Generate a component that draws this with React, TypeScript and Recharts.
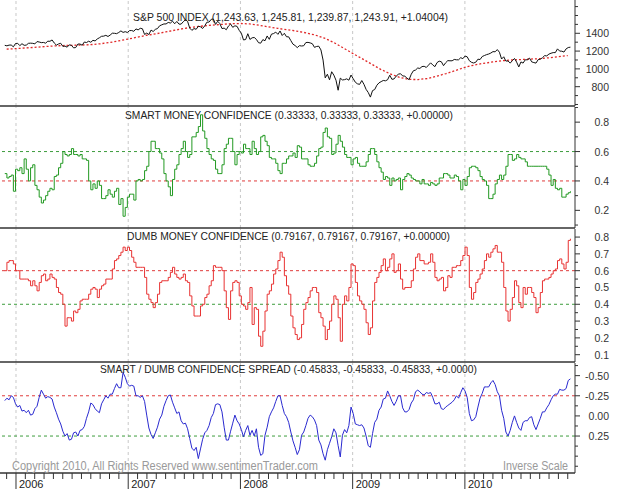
import { LineChart, Line, XAxis, YAxis, ReferenceLine } from "recharts";

// weekly samples start late Nov 2005, monthly average starts Dec 2005
const FIRST_WEEK = 2005.9;
const WEEK = 7 / 365.25;
const FIRST_MONTH = 2005 + 11 / 12;

const years = [2006, 2007, 2008, 2009, 2010];

const spx = [
  1265, 1259, 1267, 1268, 1248,
  1285, 1287, 1261, 1283, 1265, 1267, 1287, 1289, 1287, 1281, 1307, 1302, 1295,
  1297, 1289, 1311, 1310, 1325, 1291, 1267, 1280, 1288, 1253, 1256, 1244, 1270,
  1265, 1236, 1240, 1279, 1279, 1266, 1302, 1296, 1311, 1299, 1321, 1314, 1336,
  1350, 1366, 1368, 1377, 1364, 1380, 1401, 1400, 1396, 1409, 1427, 1410, 1418,
  1409, 1430, 1431, 1422, 1449, 1438, 1456, 1451, 1387, 1402, 1386, 1436, 1420,
  1444, 1453, 1484, 1495, 1505, 1505, 1522, 1515, 1536, 1507, 1533, 1503, 1503,
  1530, 1552, 1534, 1458, 1433, 1453, 1445, 1479, 1473, 1454, 1484, 1525, 1526,
  1557, 1561, 1500, 1535, 1509, 1453, 1458, 1440, 1481, 1504, 1467, 1484, 1478,
  1433, 1401, 1325, 1330, 1395, 1331, 1349, 1353, 1331, 1294, 1289, 1329, 1316,
  1370, 1332, 1390, 1397, 1413, 1388, 1426, 1375, 1400, 1361, 1360, 1318, 1278,
  1262, 1239, 1261, 1257, 1260, 1296, 1298, 1292, 1283, 1242, 1252, 1255, 1213,
  1099, 899, 940, 877, 968, 930, 873, 760, 896, 876, 879, 888, 873,
  931, 890, 850, 832, 826, 869, 827, 770, 735, 683, 756, 768, 816,
  843, 857, 870, 866, 878, 929, 883, 887, 919, 940, 946, 921, 918,
  896, 879, 940, 979, 987, 1010, 1005, 1026, 1029, 1016, 1042, 1068, 1044,
  1025, 1071, 1087, 1080, 1036, 1069, 1093, 1091, 1091, 1106, 1102, 1102, 1126,
  1115, 1144, 1136, 1092, 1074, 1066, 1075, 1109, 1105, 1139, 1150, 1160, 1167,
  1178, 1194, 1192, 1217, 1187, 1111, 1136, 1088, 1089, 1065, 1092, 1117, 1076,
  1022, 1078, 1065, 1102, 1102, 1121, 1079, 1071, 1065, 1104, 1109, 1125, 1149,
  1146, 1166, 1176, 1183, 1183, 1225, 1200, 1199, 1189, 1225, 1240, 1244,
];

const spxAverage = [
  1222,
  1228, 1235, 1242, 1250, 1257, 1262, 1265, 1268, 1272, 1282, 1296, 1315,
  1335, 1357, 1378, 1395, 1415, 1435, 1455, 1470, 1482, 1492, 1500, 1508,
  1510, 1505, 1490, 1472, 1455, 1440, 1425, 1405, 1380, 1345, 1295, 1235,
  1175, 1115, 1055, 995, 945, 905, 882, 880, 892, 918, 948, 982,
  1018, 1043, 1063, 1078, 1092, 1100, 1105, 1110, 1115, 1125, 1138, 1150,
];

const smartMoney = [
  0.45, 0.42, 0.43, 0.44, 0.33, 0.48, 0.47, 0.49, 0.45, 0.55,
  0.48, 0.40, 0.49, 0.51, 0.37, 0.34, 0.29, 0.25, 0.27, 0.30,
  0.33, 0.35, 0.34, 0.43, 0.44, 0.49, 0.52, 0.60, 0.58, 0.57,
  0.58, 0.62, 0.58, 0.58, 0.57, 0.58, 0.55, 0.55, 0.54, 0.40,
  0.34, 0.38, 0.35, 0.40, 0.37, 0.28, 0.28, 0.30, 0.34, 0.31,
  0.29, 0.33, 0.35, 0.24, 0.28, 0.16, 0.22, 0.29, 0.31, 0.31,
  0.27, 0.40, 0.41, 0.40, 0.41, 0.47, 0.50, 0.60, 0.67, 0.67,
  0.62, 0.62, 0.59, 0.55, 0.45, 0.40, 0.36, 0.30, 0.41, 0.48,
  0.51, 0.58, 0.62, 0.67, 0.60, 0.56, 0.58, 0.70, 0.70, 0.73,
  0.77, 0.85, 0.74, 0.69, 0.62, 0.58, 0.55, 0.54, 0.48, 0.45,
  0.45, 0.51, 0.62, 0.65, 0.69, 0.69, 0.60, 0.51, 0.58, 0.60,
  0.59, 0.65, 0.62, 0.62, 0.58, 0.67, 0.62, 0.58, 0.60, 0.70,
  0.71, 0.67, 0.64, 0.56, 0.55, 0.55, 0.52, 0.47, 0.45, 0.52,
  0.52, 0.55, 0.57, 0.57, 0.59, 0.56, 0.64, 0.63, 0.55, 0.55,
  0.55, 0.51, 0.50, 0.50, 0.52, 0.57, 0.62, 0.63, 0.73, 0.76,
  0.70, 0.69, 0.58, 0.59, 0.65, 0.71, 0.67, 0.63, 0.58, 0.56,
  0.56, 0.51, 0.55, 0.56, 0.52, 0.50, 0.50, 0.50, 0.53, 0.58,
  0.62, 0.62, 0.58, 0.53, 0.49, 0.46, 0.41, 0.43, 0.42, 0.37,
  0.42, 0.40, 0.41, 0.42, 0.34, 0.41, 0.43, 0.45, 0.44, 0.42,
  0.41, 0.40, 0.40, 0.38, 0.41, 0.38, 0.38, 0.37, 0.39, 0.38,
  0.37, 0.38, 0.42, 0.42, 0.45, 0.45, 0.44, 0.42, 0.42, 0.44,
  0.43, 0.40, 0.34, 0.41, 0.37, 0.43, 0.49, 0.50, 0.50, 0.49,
  0.47, 0.43, 0.41, 0.40, 0.37, 0.28, 0.28, 0.31, 0.38, 0.41,
  0.44, 0.41, 0.44, 0.50, 0.58, 0.58, 0.54, 0.55, 0.58, 0.56,
  0.55, 0.55, 0.53, 0.50, 0.50, 0.50, 0.50, 0.50, 0.50, 0.50,
  0.50, 0.50, 0.48, 0.44, 0.37, 0.41, 0.35, 0.34, 0.35, 0.29,
  0.29, 0.31, 0.32, 0.33,
];

const dumbMoney = [
  0.60, 0.65, 0.66, 0.66, 0.64, 0.60, 0.60, 0.55, 0.55, 0.55,
  0.55, 0.54, 0.51, 0.54, 0.51, 0.48, 0.53, 0.57, 0.58, 0.54,
  0.55, 0.58, 0.56, 0.55, 0.50, 0.47, 0.46, 0.40, 0.27, 0.32,
  0.32, 0.30, 0.36, 0.35, 0.37, 0.42, 0.43, 0.43, 0.43, 0.46,
  0.49, 0.50, 0.49, 0.44, 0.49, 0.51, 0.52, 0.55, 0.55, 0.55,
  0.61, 0.66, 0.67, 0.69, 0.71, 0.74, 0.72, 0.74, 0.72, 0.68,
  0.65, 0.62, 0.62, 0.62, 0.62, 0.56, 0.46, 0.43, 0.41, 0.38,
  0.41, 0.46, 0.53, 0.54, 0.54, 0.54, 0.56, 0.59, 0.62, 0.58,
  0.56, 0.55, 0.56, 0.58, 0.54, 0.53, 0.45, 0.39, 0.33, 0.33,
  0.33, 0.39, 0.40, 0.44, 0.46, 0.51, 0.54, 0.63, 0.62, 0.62,
  0.62, 0.60, 0.48, 0.38, 0.31, 0.48, 0.53, 0.54, 0.53, 0.45,
  0.40, 0.39, 0.37, 0.41, 0.50, 0.28, 0.38, 0.37, 0.21, 0.15,
  0.24, 0.36, 0.46, 0.48, 0.52, 0.58, 0.61, 0.66, 0.71, 0.68,
  0.57, 0.51, 0.46, 0.33, 0.26, 0.22, 0.19, 0.20, 0.28, 0.37,
  0.41, 0.44, 0.48, 0.50, 0.50, 0.47, 0.35, 0.32, 0.27, 0.19,
  0.25, 0.30, 0.40, 0.45, 0.43, 0.32, 0.18, 0.40, 0.45, 0.42,
  0.50, 0.64, 0.63, 0.53, 0.45, 0.42, 0.40, 0.37, 0.29, 0.22,
  0.26, 0.42, 0.53, 0.56, 0.59, 0.63, 0.67, 0.60, 0.62, 0.67,
  0.70, 0.59, 0.60, 0.64, 0.55, 0.49, 0.50, 0.50, 0.50, 0.54,
  0.61, 0.68, 0.70, 0.66, 0.66, 0.64, 0.64, 0.65, 0.70, 0.65,
  0.56, 0.54, 0.55, 0.56, 0.48, 0.50, 0.57, 0.56, 0.62, 0.62,
  0.63, 0.63, 0.66, 0.69, 0.74, 0.69, 0.50, 0.43, 0.47, 0.53,
  0.55, 0.58, 0.61, 0.66, 0.70, 0.68, 0.71, 0.73, 0.75, 0.71,
  0.71, 0.65, 0.50, 0.36, 0.30, 0.37, 0.44, 0.54, 0.51, 0.41,
  0.38, 0.50, 0.46, 0.50, 0.50, 0.47, 0.44, 0.35, 0.38, 0.47,
  0.54, 0.55, 0.55, 0.56, 0.58, 0.60, 0.61, 0.66, 0.67, 0.64,
  0.61, 0.65, 0.78, 0.79,
];

const spread = [
  -0.19, -0.22, -0.20, -0.25, -0.23, -0.15, -0.11, -0.13, -0.06, -0.07,
  -0.04, -0.07, -0.01, -0.02, -0.09, -0.12, -0.23, -0.32, -0.27, -0.22,
  -0.24, -0.23, -0.21, -0.11, -0.04, 0.04, 0.10, 0.19, 0.25, 0.22,
  0.30, 0.29, 0.21, 0.20, 0.25, 0.18, 0.17, 0.13, 0.03, -0.05,
  -0.16, -0.14, -0.09, -0.06, -0.04, -0.15, -0.20, -0.25, -0.22, -0.27,
  -0.27, -0.34, -0.40, -0.35, -0.35, -0.54, -0.48, -0.40, -0.37, -0.38,
  -0.37, -0.25, -0.25, -0.23, -0.25, -0.18, -0.01, 0.15, 0.23, 0.28,
  0.21, 0.14, 0.04, -0.01, -0.12, -0.19, -0.25, -0.26, -0.17, -0.10,
  -0.03, -0.05, 0.06, 0.10, 0.09, 0.16, 0.28, 0.40, 0.43, 0.39,
  0.53, 0.41, 0.29, 0.21, 0.18, 0.12, 0.02, -0.03, -0.14, -0.15,
  -0.14, -0.05, 0.14, 0.30, 0.30, 0.19, 0.09, -0.01, 0.06, 0.10,
  0.17, 0.26, 0.18, 0.12, 0.24, 0.18, 0.25, 0.16, 0.39, 0.49,
  0.47, 0.24, 0.14, 0.01, -0.05, -0.10, -0.18, -0.25, -0.25, -0.13,
  -0.03, 0.01, 0.08, 0.20, 0.31, 0.39, 0.48, 0.42, 0.24, 0.20,
  0.12, 0.03, -0.01, 0.01, 0.05, 0.12, 0.30, 0.36, 0.47, 0.55,
  0.42, 0.34, 0.26, 0.16, 0.21, 0.37, 0.51, 0.24, 0.17, 0.21,
  0.12, -0.11, -0.03, 0.10, 0.11, 0.12, 0.11, 0.15, 0.25, 0.37,
  0.39, 0.22, 0.08, 0.04, -0.07, -0.11, -0.21, -0.22, -0.31, -0.25,
  -0.18, -0.13, -0.18, -0.25, -0.25, -0.10, -0.05, -0.05, -0.08, -0.16,
  -0.20, -0.30, -0.32, -0.30, -0.27, -0.26, -0.29, -0.28, -0.29, -0.23,
  -0.15, -0.15, -0.17, -0.09, -0.08, -0.11, -0.13, -0.15, -0.17, -0.20,
  -0.25, -0.22, -0.29, -0.35, -0.31, -0.23, -0.03, 0.06, 0.05, 0.01,
  -0.11, -0.22, -0.28, -0.36, -0.36, -0.36, -0.41, -0.44, -0.39, -0.30,
  -0.25, -0.07, 0.03, 0.20, 0.25, 0.18, 0.08, 0.00, 0.08, 0.15,
  0.18, 0.08, 0.06, 0.06, 0.02, 0.01, 0.11, 0.17, 0.10, 0.03,
  -0.05, -0.05, -0.10, -0.14, -0.20, -0.25, -0.27, -0.27, -0.33, -0.32,
  -0.32, -0.34, -0.44, -0.46,
];

const spxTicks = [600, 700, 800, 900, 1000, 1100, 1200, 1300, 1400, 1500, 1600, 1700];
const spxLabels = [800, 1000, 1200, 1400];
const smartTicks = [0.1, 0.2, 0.3, 0.4, 0.5, 0.6, 0.7, 0.8, 0.9];
const smartLabels = [0.2, 0.4, 0.6, 0.8];
const dumbTicks = [0.1, 0.15, 0.2, 0.25, 0.3, 0.35, 0.4, 0.45, 0.5, 0.55, 0.6, 0.65, 0.7, 0.75, 0.8];
const dumbLabels = [0.1, 0.2, 0.3, 0.4, 0.5, 0.6, 0.7, 0.8];
const spreadTicks = [-0.625, -0.5, -0.375, -0.25, -0.125, 0, 0.125, 0.25, 0.375, 0.5, 0.625];
const spreadLabels = [-0.5, -0.25, 0, 0.25];

const weekT = (i: number) => FIRST_WEEK + i * WEEK;

const spxRows = spx.map((v, i) => ({ t: weekT(i), spx: v }));
const avgRows = spxAverage.map((v, k) => ({ t: FIRST_MONTH + k / 12, avg: v }));

const weeklyRows = smartMoney.map((v, i) => ({
  t: weekT(i),
  smart: v,
  dumb: dumbMoney[i],
  spread: spread[i],
}));

const monthTicks: number[] = [FIRST_MONTH];
years.forEach((y) => {
  for (let m = 0; m < 12; m++) monthTicks.push(y + m / 12);
});

const FONT = "'Liberation Sans', Arial, Helvetica, sans-serif";
const X_DOMAIN: [number, number] = [2005.8575, 2010.9813];
const AXIS_X = 575;
const GRID = "#c8c8c8";
const RED_REF = "#e03c3c";
const GREEN_REF = "#3c9c3c";

const rightTick = (labels: number[], fmt: (v: number) => string) => (props: any) => {
  const { y, payload } = props;
  const v = payload.value;
  const labelled = labels.includes(v);
  return (
    <g>
      <line x1={AXIS_X} x2={labelled ? AXIS_X + 5 : AXIS_X + 3} y1={y} y2={y} stroke="#333" />
      {labelled && (
        <text x={609} y={y + 4} textAnchor="end" fontSize={10.5} fontFamily={FONT} fill="#333">
          {fmt(v)}
        </text>
      )}
    </g>
  );
};

function MonthTick(props: any) {
  const { x, payload } = props;
  const isYear = Number.isInteger(payload.value);
  const y0 = 110;
  return (
    <g>
      <line x1={x} x2={x} y1={y0} y2={y0 + (isYear ? 16 : 6)} stroke="#333" />
      {isYear && (
        <text x={x + 3} y={y0 + 15} fontSize={11} fontFamily={FONT} fill="#222">
          {payload.value}
        </text>
      )}
    </g>
  );
}

const flatXAxis = (
  <XAxis
    type="number"
    dataKey="t"
    domain={X_DOMAIN}
    allowDataOverflow
    ticks={years}
    tick={false}
    tickLine={false}
    height={1}
    axisLine={{ stroke: "#333", strokeWidth: 1.5 }}
  />
);

const margin = { top: 0, right: 0, bottom: 0, left: 0 };

export default function App() {
  return (
    <div style={{ position: "absolute", left: 0, top: 0, width: 619, height: 498, background: "#fff" }}>
      <div style={{ position: "absolute", left: 0, top: 0 }}>
        <LineChart width={619} height={107} data={spxRows} margin={margin}>
          {years.map((y) => (
            <ReferenceLine key={y} x={y} stroke={GRID} strokeDasharray="3 3" />
          ))}
          {flatXAxis}
          <YAxis
            orientation="right"
            width={44}
            domain={[583, 1774]}
            allowDataOverflow
            ticks={spxTicks}
            interval={0}
            tickLine={false}
            axisLine={{ stroke: "#333" }}
            tick={rightTick(spxLabels, (v) => String(v))}
          />
          <Line data={avgRows} dataKey="avg" stroke="#e02828" strokeWidth={1.3} strokeDasharray="2 2" dot={false} activeDot={false} isAnimationActive={false} />
          <Line dataKey="spx" stroke="#111" strokeWidth={1} dot={false} activeDot={false} isAnimationActive={false} />
        </LineChart>
      </div>

      <div style={{ position: "absolute", left: 0, top: 107 }}>
        <LineChart width={619} height={122} data={weeklyRows} margin={margin}>
          {years.map((y) => (
            <ReferenceLine key={y} x={y} stroke={GRID} strokeDasharray="3 3" />
          ))}
          <ReferenceLine y={0.6} stroke={GREEN_REF} strokeDasharray="3 3" />
          <ReferenceLine y={0.4} stroke={RED_REF} strokeDasharray="3 3" />
          {flatXAxis}
          <YAxis
            orientation="right"
            width={44}
            domain={[0.08, 0.903]}
            allowDataOverflow
            ticks={smartTicks}
            interval={0}
            tickLine={false}
            axisLine={{ stroke: "#333" }}
            tick={rightTick(smartLabels, (v) => v.toFixed(1))}
          />
          <Line type="stepAfter" dataKey="smart" stroke="#229922" strokeWidth={1} dot={false} activeDot={false} isAnimationActive={false} />
        </LineChart>
      </div>

      <div style={{ position: "absolute", left: 0, top: 229 }}>
        <LineChart width={619} height={134} data={weeklyRows} margin={margin}>
          {years.map((y) => (
            <ReferenceLine key={y} x={y} stroke={GRID} strokeDasharray="3 3" />
          ))}
          <ReferenceLine y={0.6} stroke={RED_REF} strokeDasharray="3 3" />
          <ReferenceLine y={0.4} stroke={GREEN_REF} strokeDasharray="3 3" />
          {flatXAxis}
          <YAxis
            orientation="right"
            width={44}
            domain={[0.0565, 0.848]}
            allowDataOverflow
            ticks={dumbTicks}
            interval={0}
            tickLine={false}
            axisLine={{ stroke: "#333" }}
            tick={rightTick(dumbLabels, (v) => v.toFixed(1))}
          />
          <Line type="stepAfter" dataKey="dumb" stroke="#e83232" strokeWidth={1} dot={false} activeDot={false} isAnimationActive={false} />
        </LineChart>
      </div>

      <div style={{ position: "absolute", left: 0, top: 363 }}>
        <LineChart width={619} height={135} data={weeklyRows} margin={margin}>
          {years.map((y) => (
            <ReferenceLine key={y} x={y} stroke={GRID} strokeDasharray="3 3" />
          ))}
          <ReferenceLine y={-0.25} stroke={RED_REF} strokeDasharray="3 3" />
          <ReferenceLine y={0.25} stroke={GREEN_REF} strokeDasharray="3 3" />
          <XAxis
            type="number"
            dataKey="t"
            domain={X_DOMAIN}
            allowDataOverflow
            ticks={monthTicks}
            interval={0}
            tickLine={false}
            height={25}
            axisLine={{ stroke: "#333", strokeWidth: 1.5 }}
            tick={MonthTick}
          />
          <YAxis
            orientation="right"
            width={44}
            reversed
            domain={[-0.657, 0.709]}
            allowDataOverflow
            ticks={spreadTicks}
            interval={0}
            tickLine={false}
            axisLine={{ stroke: "#333" }}
            tick={rightTick(spreadLabels, (v) => v.toFixed(2))}
          />
          <Line dataKey="spread" stroke="#2a2ad0" strokeWidth={1} dot={false} activeDot={false} isAnimationActive={false} />
        </LineChart>
      </div>

      <svg width={619} height={498} style={{ position: "absolute", left: 0, top: 0, pointerEvents: "none" }}>
        <g fontFamily={FONT} fontSize={10.5} fill="#222">
          <text x={133} y={21} textLength={315} lengthAdjust="spacingAndGlyphs">
            S&amp;P 500 INDEX (1,243.63, 1,245.81, 1,239.87, 1,243.91, +1.04004)
          </text>
          <text x={125} y={119} textLength={328} lengthAdjust="spacingAndGlyphs">
            SMART MONEY CONFIDENCE (0.33333, 0.33333, 0.33333, +0.00000)
          </text>
          <text x={127} y={240} textLength={323} lengthAdjust="spacingAndGlyphs">
            DUMB MONEY CONFIDENCE (0.79167, 0.79167, 0.79167, +0.00000)
          </text>
          <text x={100} y={373} textLength={377} lengthAdjust="spacingAndGlyphs">
            SMART / DUMB CONFIDENCE SPREAD (-0.45833, -0.45833, -0.45833, +0.0000)
          </text>
        </g>
        <g fontFamily={FONT} fontSize={12} fill="#9a9a9a">
          <text x={12} y={470} textLength={306} lengthAdjust="spacingAndGlyphs">
            Copyright 2010, All Rights Reserved  www.sentimenTrader.com
          </text>
          <text x={503} y={470} textLength={65} lengthAdjust="spacingAndGlyphs">
            Inverse Scale
          </text>
        </g>
      </svg>
    </div>
  );
}
